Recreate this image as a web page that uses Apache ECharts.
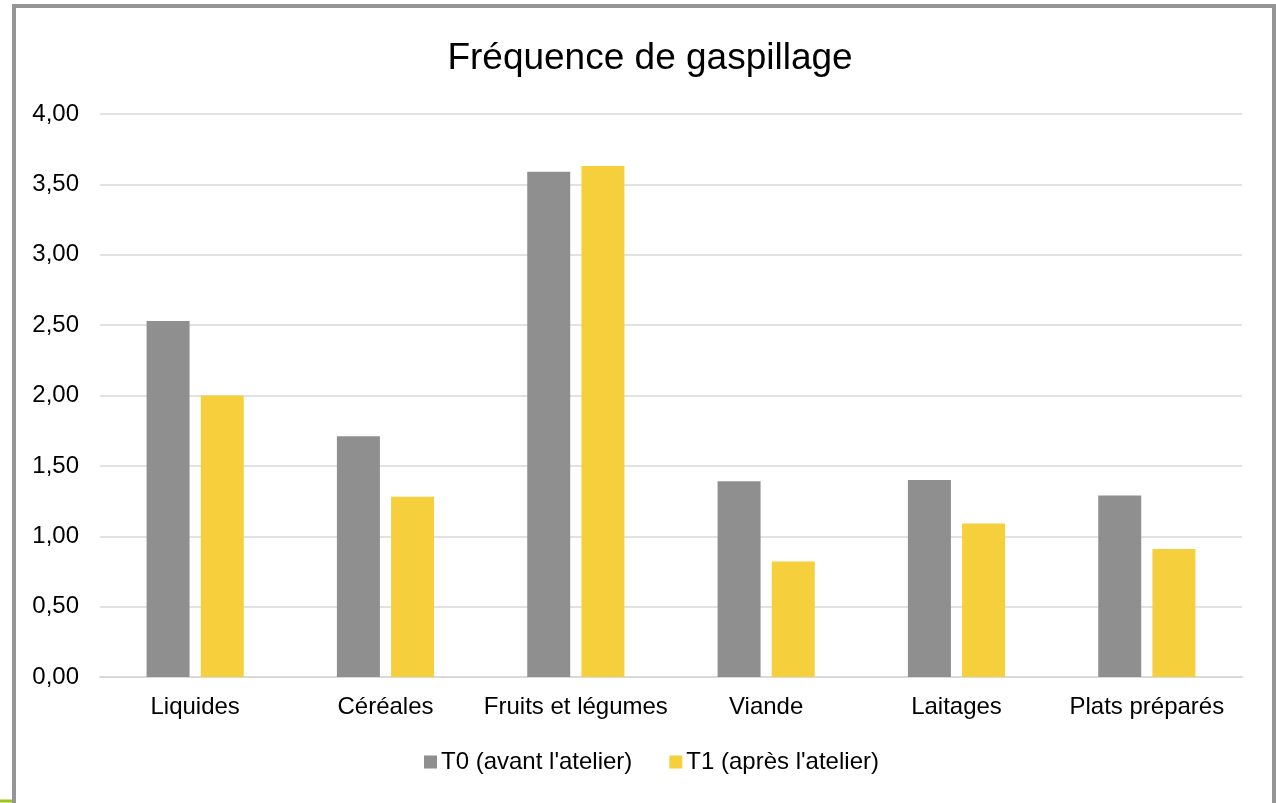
<!DOCTYPE html>
<html><head><meta charset="utf-8">
<script src="https://cdn.jsdelivr.net/npm/echarts@6/dist/echarts.min.js"></script>
<style>html,body{margin:0;padding:0;background:#fff}#c{width:1276px;height:803px}</style>
</head><body><div id="c"></div>
<script>
const categories = ['Liquides','Céréales','Fruits et légumes','Viande','Laitages','Plats préparés'];
const t0 = [2.53, 1.71, 3.59, 1.39, 1.40, 1.29];
const t1 = [2.00, 1.28, 3.63, 0.82, 1.09, 0.91];
const seriesNames = ["T0 (avant l'atelier)", "T1 (après l'atelier)"];
const titleText = 'Fréquence de gaspillage';
const font = 'Liberation Sans, Arial, sans-serif';
const chart = echarts.init(document.getElementById('c'));
chart.setOption({
  animation:false,
  backgroundColor:'#fff',
  title:{text:titleText,left:645,textAlign:'center',top:35,textStyle:{fontFamily:font,fontSize:37,fontWeight:'normal',color:'#000'}},
  legend:{bottom:24,left:419,itemWidth:13,itemHeight:13,itemGap:37,icon:'rect',
    textStyle:{fontFamily:font,fontSize:24,color:'#000',padding:[0,0,0,-1]}},
  grid:{left:100,right:34,top:114,bottom:126,containLabel:false},
  xAxis:{type:'category',data:categories,
    axisLine:{lineStyle:{color:'#d9d9d9',width:2}},axisTick:{show:false},
    axisLabel:{fontFamily:font,fontSize:24,color:'#000',margin:18,interval:0}},
  yAxis:{type:'value',min:0,max:4,interval:0.5,
    axisLine:{show:false},axisTick:{show:false},
    splitLine:{lineStyle:{color:'#e2e2e2',width:2}},
    axisLabel:{fontFamily:font,fontSize:24,color:'#000',margin:21,
      formatter:v=>v.toFixed(2).replace('.',',')}},
  series:[
    {name:seriesNames[0],type:'bar',data:t0,barWidth:43,barGap:'26%',itemStyle:{color:'#8f8f8f'}},
    {name:seriesNames[1],type:'bar',data:t1,barWidth:43,itemStyle:{color:'#f5cf3c'}}
  ],
  graphic:[
    {type:'rect',shape:{x:14,y:6,width:1260,height:820},style:{fill:'none',stroke:'#959595',lineWidth:4},z:100},
    {type:'line',shape:{x1:0,y1:801,x2:12,y2:801},style:{stroke:'#9cc31e',lineWidth:3},z:100}
  ]
});
</script></body></html>
